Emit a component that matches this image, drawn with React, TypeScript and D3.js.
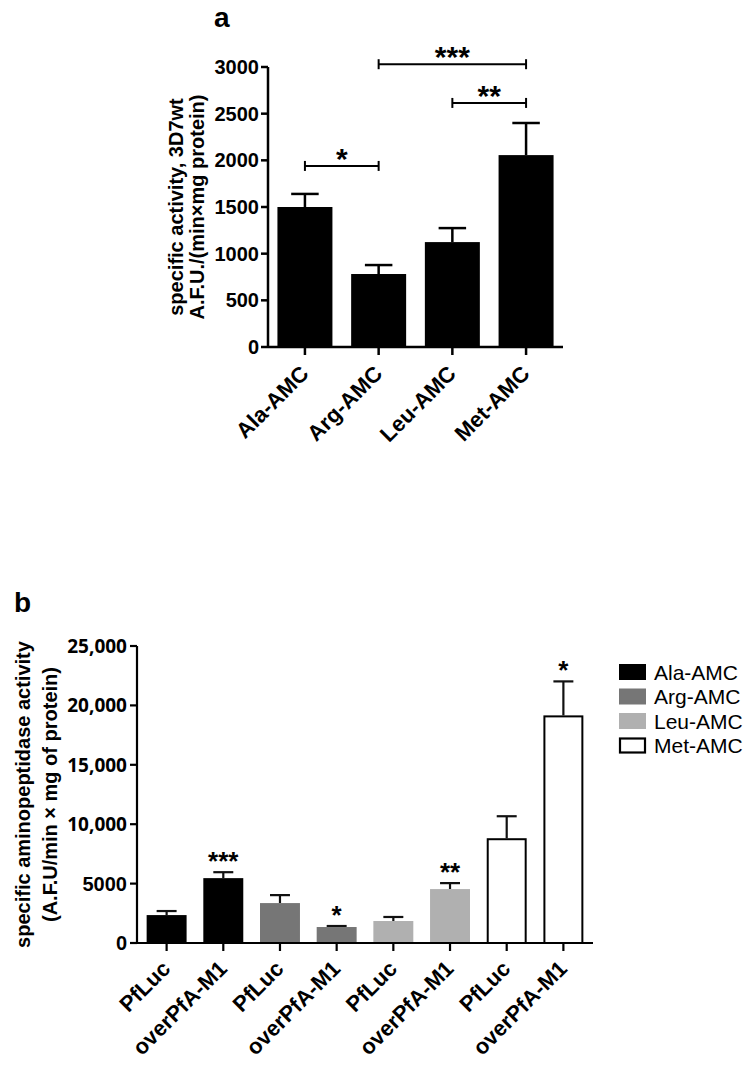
import React from "react";
import * as d3 from "d3";

// ---------- Panel a data ----------
const aCategories = ["Ala-AMC", "Arg-AMC", "Leu-AMC", "Met-AMC"];
const aMeans = [1500, 782, 1124, 2056];
const aErrors = [140, 96, 150, 344];
const aTicks = [0, 500, 1000, 1500, 2000, 2500, 3000];
const aBracketFrom = [0, 1, 2];
const aBracketTo = [1, 3, 3];
const aBracketValue = [1940, 3030, 2615];
const aBracketLabel = ["*", "***", "**"];

// ---------- Panel b data ----------
const bGroups = ["PfLuc", "overPfA-M1", "PfLuc", "overPfA-M1", "PfLuc", "overPfA-M1", "PfLuc", "overPfA-M1"];
const bSubstrates = ["Ala-AMC", "Arg-AMC", "Leu-AMC", "Met-AMC"];
const bPfLuc = [2350, 3360, 1850, 8820];
const bPfLucErr = [340, 670, 340, 1850];
const bOver = [5460, 1345, 4540, 19160];
const bOverErr = [500, 85, 500, 2860];
const bSig = ["***", "*", "**", "*"];
const bTicks = [0, 5000, 10000, 15000, 20000, 25000];
const bTickLabels = ["0", "5000", "10,000", "15,000", "20,000", "25,000"];
const bColors = ["#000000", "#767676", "#b0b0b0", "#ffffff"];

const FONT = "Arial, 'Liberation Sans', Helvetica, sans-serif";

export default function App() {
  // Panel a scales
  const ax = d3.scaleBand<number>().domain(d3.range(aCategories.length)).range([268, 563]).paddingInner(0.254).paddingOuter(0.128);
  const ay = d3.scaleLinear().domain([0, 3000]).range([347, 67]);
  const aBase = ay(0);

  // Panel b scales
  const bx = d3.scaleBand<number>().domain(d3.range(bGroups.length)).range([137, 593]).paddingInner(0.295).paddingOuter(0.17);
  const by = d3.scaleLinear().domain([0, 25000]).range([943, 646]);
  const bBase = by(0);

  const bBars = bGroups.map((g, i) => {
    const s = Math.floor(i / 2);
    const over = i % 2 === 1;
    return {
      i,
      s,
      over,
      value: over ? bOver[s] : bPfLuc[s],
      err: over ? bOverErr[s] : bPfLucErr[s],
      color: bColors[s],
    };
  });

  const starY = (center: number, fs: number) => center + 0.6 * fs;

  return (
    <svg width={752} height={1067} style={{ position: "absolute", left: 0, top: 0, background: "#fff" }} fontFamily={FONT}>
      <rect x={0} y={0} width={752} height={1067} fill="#fff" />
      {/* ================= Panel a ================= */}
      <text x={214} y={27} fontSize={28} fontWeight="bold">a</text>

      {/* y label */}
      <g transform={`translate(183, ${(ay(0) + ay(3000)) / 2}) rotate(-90)`}>
        <text x={0} y={0} textAnchor="middle" fontSize={20} fontWeight="bold">specific activity, 3D7wt</text>
        <text x={0} y={21} textAnchor="middle" fontSize={20} fontWeight="bold">A.F.U./(min×mg protein)</text>
      </g>

      {/* bars */}
      {aMeans.map((v, i) => {
        const cx = ax(i)! + ax.bandwidth() / 2;
        const top = ay(v + aErrors[i]);
        return (
          <g key={"ab" + i}>
            <line x1={cx} x2={cx} y1={ay(v)} y2={top} stroke="#000" strokeWidth={2.5} />
            <line x1={cx - ax.bandwidth() / 4} x2={cx + ax.bandwidth() / 4} y1={top} y2={top} stroke="#000" strokeWidth={2.5} />
            <rect x={ax(i)} y={ay(v)} width={ax.bandwidth()} height={aBase - ay(v)} fill="#000" />
          </g>
        );
      })}

      {/* axes */}
      <line x1={268} x2={268} y1={ay(3000)} y2={aBase} stroke="#000" strokeWidth={2.5} />
      <line x1={268} x2={563} y1={aBase} y2={aBase} stroke="#000" strokeWidth={2.5} />
      {aTicks.map((t) => (
        <g key={"at" + t}>
          <line x1={261} x2={268} y1={ay(t)} y2={ay(t)} stroke="#000" strokeWidth={2.5} />
          <text x={259} y={ay(t) + 7} textAnchor="end" fontSize={20} fontWeight="bold">{t}</text>
        </g>
      ))}
      {aCategories.map((c, i) => {
        const cx = ax(i)! + ax.bandwidth() / 2;
        return (
          <g key={"ac" + i}>
            <line x1={cx} x2={cx} y1={aBase} y2={aBase + 8} stroke="#000" strokeWidth={2.5} />
            <text transform={`translate(${cx + 5}, ${aBase + 28}) rotate(-45)`} textAnchor="end" fontSize={22} fontWeight="bold">{c}</text>
          </g>
        );
      })}

      {/* significance brackets */}
      {aBracketFrom.map((f, k) => {
        const x1 = ax(f)! + ax.bandwidth() / 2;
        const x2 = ax(aBracketTo[k])! + ax.bandwidth() / 2;
        const y = ay(aBracketValue[k]);
        return (
          <g key={"br" + k}>
            <line x1={x1} x2={x2} y1={y} y2={y} stroke="#000" strokeWidth={2} />
            <line x1={x1} x2={x1} y1={y - 5} y2={y + 5} stroke="#000" strokeWidth={2} />
            <line x1={x2} x2={x2} y1={y - 5} y2={y + 5} stroke="#000" strokeWidth={2} />
            <text x={(x1 + x2) / 2} y={starY(y - 15, 30)} textAnchor="middle" fontSize={30} fontWeight="bold">{aBracketLabel[k]}</text>
          </g>
        );
      })}

      {/* ================= Panel b ================= */}
      <text x={14} y={612} fontSize={28} fontWeight="bold">b</text>

      <g transform={`translate(30, ${(by(0) + by(25000)) / 2}) rotate(-90)`}>
        <text x={0} y={0} textAnchor="middle" fontSize={20} fontWeight="bold">specific aminopeptidase activity</text>
        <text x={0} y={27} textAnchor="middle" fontSize={20} fontWeight="bold">(A.F.U/min × mg of protein)</text>
      </g>

      {bBars.map((b) => {
        const x = bx(b.i)!;
        const w = bx.bandwidth();
        const cx = x + w / 2;
        const top = by(b.value + b.err);
        const isWhite = b.s === 3;
        return (
          <g key={"bb" + b.i}>
            <line x1={cx} x2={cx} y1={by(b.value)} y2={top} stroke="#111" strokeWidth={2.2} />
            <line x1={cx - w / 4} x2={cx + w / 4} y1={top} y2={top} stroke="#111" strokeWidth={2.2} />
            <rect
              x={isWhite ? x + 1 : x}
              y={isWhite ? by(b.value) + 1 : by(b.value)}
              width={isWhite ? w - 2 : w}
              height={isWhite ? bBase - by(b.value) - 1 : bBase - by(b.value)}
              fill={b.color}
              stroke={isWhite ? "#000" : "none"}
              strokeWidth={2}
            />
            {b.over && (
              <text x={cx} y={starY(top - 18, 26)} textAnchor="middle" fontSize={26} fontWeight="bold">{bSig[b.s]}</text>
            )}
          </g>
        );
      })}

      <line x1={137} x2={137} y1={by(25000)} y2={bBase} stroke="#000" strokeWidth={2.2} />
      <line x1={137} x2={593} y1={bBase} y2={bBase} stroke="#000" strokeWidth={2.2} />
      {bTicks.map((t, k) => (
        <g key={"bt" + t}>
          <line x1={130} x2={137} y1={by(t)} y2={by(t)} stroke="#000" strokeWidth={2.2} />
          <text
            x={127}
            y={by(t) + 7}
            textAnchor="end"
            fontSize={bTickLabels[k].includes(",") ? 19 : 20}
            fontWeight="bold"
            fontFamily={bTickLabels[k].includes(",") ? "'Open Sans', sans-serif" : FONT}
          >
            {bTickLabels[k]}
          </text>
        </g>
      ))}
      {bGroups.map((g, i) => {
        const cx = bx(i)! + bx.bandwidth() / 2;
        return (
          <g key={"bg" + i}>
            <line x1={cx} x2={cx} y1={bBase} y2={bBase + 8} stroke="#000" strokeWidth={2.2} />
            <text transform={`translate(${cx + 5}, ${bBase + 27}) rotate(-45)`} textAnchor="end" fontSize={22} fontWeight="bold">{g}</text>
          </g>
        );
      })}

      {/* legend */}
      {bSubstrates.map((s, k) => {
        const y = 664 + k * 24.5;
        return (
          <g key={"lg" + k}>
            <rect
              x={k === 3 ? 620 : 619}
              y={k === 3 ? y + 1 : y}
              width={k === 3 ? 25 : 27}
              height={k === 3 ? 14 : 16}
              fill={bColors[k]}
              stroke={k === 3 ? "#000" : "none"}
              strokeWidth={2.2}
            />
            <text x={654} y={y + 15.5} fontSize={21}>{s}</text>
          </g>
        );
      })}
    </svg>
  );
}
